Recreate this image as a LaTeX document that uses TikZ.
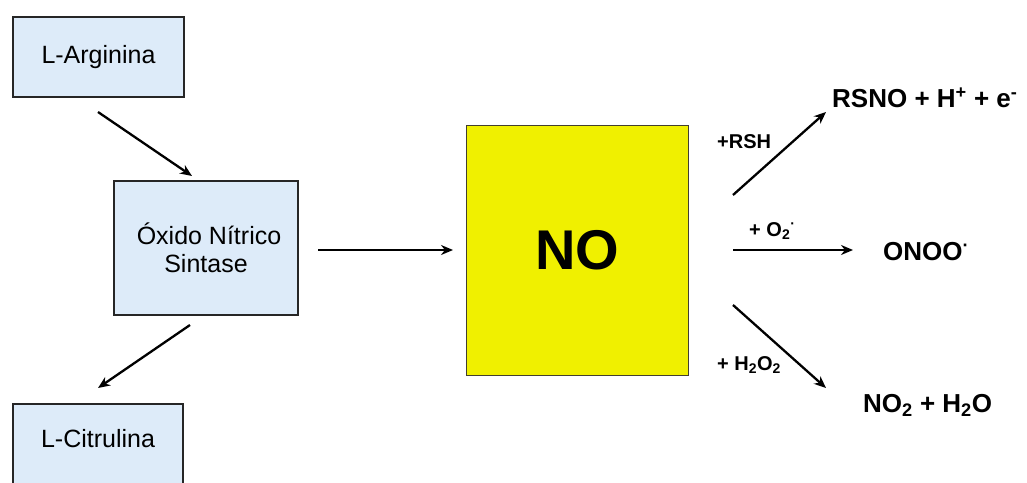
\documentclass[tikz,border=0pt]{standalone}
\usepackage{fontspec}
\setmainfont{Liberation Sans}
\usetikzlibrary{arrows.meta}
\definecolor{boxblue}{RGB}{221,235,249}
\definecolor{noyellow}{RGB}{240,240,0}
\begin{document}
\begin{tikzpicture}[x=1pt,y=-1pt,
  bluebox/.style={draw=black!85,line width=1.6pt,fill=boxblue,inner sep=0pt,font=\fontsize{25}{28}\selectfont,align=center},
  arr/.style={line width=2.3pt,-{Stealth[length=12pt,width=10pt]}},
  biglab/.style={font=\bfseries\fontsize{26}{28}\selectfont,inner sep=0pt,anchor=west},
  smalllab/.style={font=\bfseries\fontsize{20}{22}\selectfont,inner sep=0pt}]
\useasboundingbox (0,0) rectangle (1027,482);
\fill[white] (0,0) rectangle (1027,482);
% boxes
\node[bluebox,minimum width=171pt,minimum height=80pt] (arg) at (98.5,57) {L-Arginina};
\node[bluebox,minimum width=184pt,minimum height=134pt] (nos) at (206,248) {\hspace*{6pt}Óxido Nítrico\\Sintase};
\node[bluebox,minimum width=170pt,minimum height=100pt,text depth=32pt] (cit) at (98,454) {L-Citrulina};
\node[draw=black!70!olive,line width=1pt,fill=noyellow,minimum width=222pt,minimum height=250pt,inner sep=0pt,font=\bfseries\fontsize{56}{60}\selectfont] (no) at (577,250) {NO};
% products
\node[biglab] (rsno) at (832,98) {RSNO + H\textsuperscript{+} + e\textsuperscript{-}};
\node[biglab] (onoo) at (883,252) {ONOO\textsuperscript{·}};
\node[biglab] (no2) at (863,405) {NO\textsubscript{2} + H\textsubscript{2}O};
% arrow end points
\coordinate (a1s) at (98,112);  \coordinate (a1e) at (192,176);
\coordinate (a2s) at (190,325); \coordinate (a2e) at (98,388);
\coordinate (a3s) at (318,250); \coordinate (a3e) at (453,250);
\coordinate (r1s) at (733,195); \coordinate (r1e) at (826,112);
\coordinate (r2s) at (733,250); \coordinate (r2e) at (853,250);
\coordinate (r3s) at (733,305); \coordinate (r3e) at (826,388);
\draw[arr] (a1s) -- (a1e);
\draw[arr] (a2s) -- (a2e);
\draw[arr] (a3s) -- (a3e);
\draw[arr] (r1s) -- (r1e);
\draw[arr] (r2s) -- (r2e);
\draw[arr] (r3s) -- (r3e);
% reagent labels
\node[smalllab,anchor=west] (lrsh) at (717,142) {+RSH};
\node[smalllab,anchor=west] (lo2) at (749,231) {+ O\textsubscript{2}\textsuperscript{·}};
\node[smalllab,anchor=west] (lh2o2) at (717,365) {+ H\textsubscript{2}O\textsubscript{2}};
\end{tikzpicture}
\end{document}
